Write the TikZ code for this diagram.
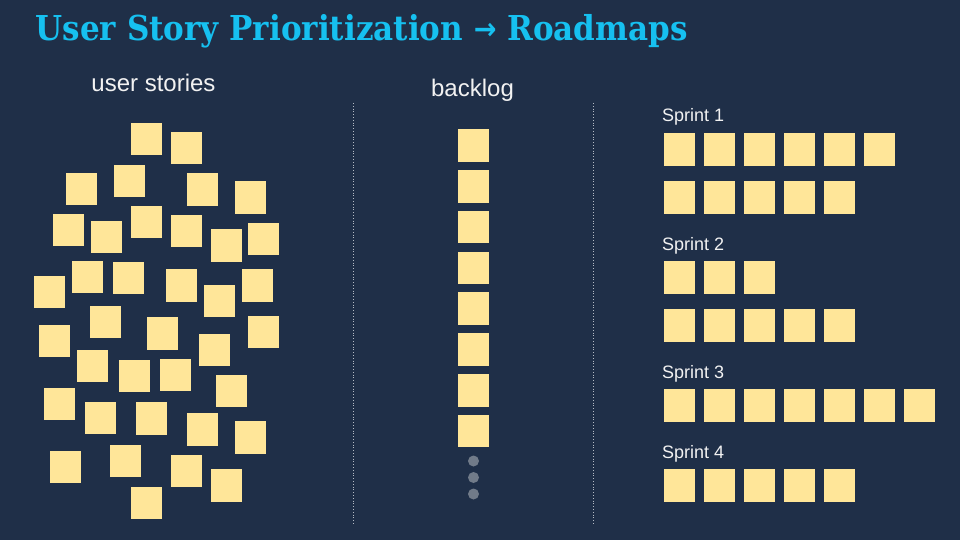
\documentclass[tikz,border=0pt]{standalone}
\usepackage{fontspec}
\usepackage{graphicx}
\setmainfont{Liberation Sans}
\newfontfamily\titlefont{DejaVu Serif}
\newfontfamily\arrowfont{DejaVu Sans}
\usepackage{tikz}

\definecolor{slidebg}{HTML}{1F2F48}
\definecolor{cardfill}{HTML}{FFE699}
\definecolor{titlecyan}{HTML}{16C0F0}
\definecolor{labelwhite}{HTML}{F2F2F2}
\definecolor{dotgray}{HTML}{717B89}
\definecolor{rulegray}{HTML}{B4BAC4}

\tikzset{
  card/.style={fill=cardfill, draw=none, inner sep=0pt, minimum width=31pt, minimum height=32.5pt},
  headlabel/.style={text=labelwhite, inner sep=0pt, font=\fontsize{24}{28}\selectfont},
  sprintlabel/.style={text=labelwhite, inner sep=0pt, anchor=base west, font=\fontsize{18}{22}\selectfont},
  divider/.style={rulegray, line width=0.8pt, dotted},
}

\begin{document}
\begin{tikzpicture}[x=1pt,y=1pt,yscale=-1]
%set diagram to the size of the slide
\useasboundingbox (0,0) rectangle (960,540);
\fill[slidebg] (0,0) rectangle (960,540);

% Title
\node [anchor=base west, inner sep=0pt, text=titlecyan] (title) at (35.5,41)
  {\resizebox{652pt}{\height}{\titlefont\bfseries\fontsize{34.3}{40}\selectfont
   User Story Prioritization {\arrowfont\fontsize{30}{30}\selectfont\raisebox{1pt}{→}} Roadmaps}};

% Column headings
\node [headlabel, anchor=base] (storieslabel) at (153.5,91.5) {user stories};
\node [headlabel, anchor=base] (backloglabel) at (472.5,97) {backlog};

%Dotted dividers
\draw [divider] (353.3,103) -- (353.3,524);
\draw [divider] (593.3,103) -- (593.3,524);

%Scattered user stories
\foreach \x/\y [count=\i] in {146.5/139, 186.5/148, 81.5/189, 129.5/181, 202.5/189.5, 250.5/197.5,
    68.5/230, 106.5/237, 146.5/222, 186.5/231, 226.5/245.5, 263.5/239,
    87/277, 128.5/278, 49.5/292, 181.5/285.5, 219.5/301, 257.5/285.5,
    105.5/322, 54.5/341, 162.5/333.5, 214.5/350, 263.5/332,
    92.5/366, 134.5/376, 175.5/375, 231.5/391,
    59/404, 100.5/418, 151.5/418.5, 202.5/429.5, 250.5/437.5,
    65.5/467, 125.5/461, 186.5/471, 226.5/485.5, 146.5/503}
  \node [card] (story\i) at (\x,\y) {};

%Backlog column
\foreach \k in {0,...,7}
  \node [card] (backlog\k) at (473.5,145.5+40.8*\k) {};
\foreach \k/\y in {0/461, 1/477.5, 2/494}
  \fill [dotgray] (473.5,\y) circle (5.5) coordinate (more\k);

% Sprint labels
\node [sprintlabel] (sprint1) at (662,122) {Sprint 1};
\node [sprintlabel] (sprint2) at (662,250) {Sprint 2};
\node [sprintlabel] (sprint3) at (662,378) {Sprint 3};
\node [sprintlabel] (sprint4) at (662,458) {Sprint 4};

%Sprint rows: name/row centre/number of cards
\foreach \r/\y/\n in {a/149.5/6, b/197.5/5, c/277.5/3, d/325.5/5, e/405.5/7, f/485.5/5}
  \foreach \k in {1,...,\n}
    \node [card] (row\r\k) at (639.5+40*\k,\y) {};

\end{tikzpicture}
\end{document}
